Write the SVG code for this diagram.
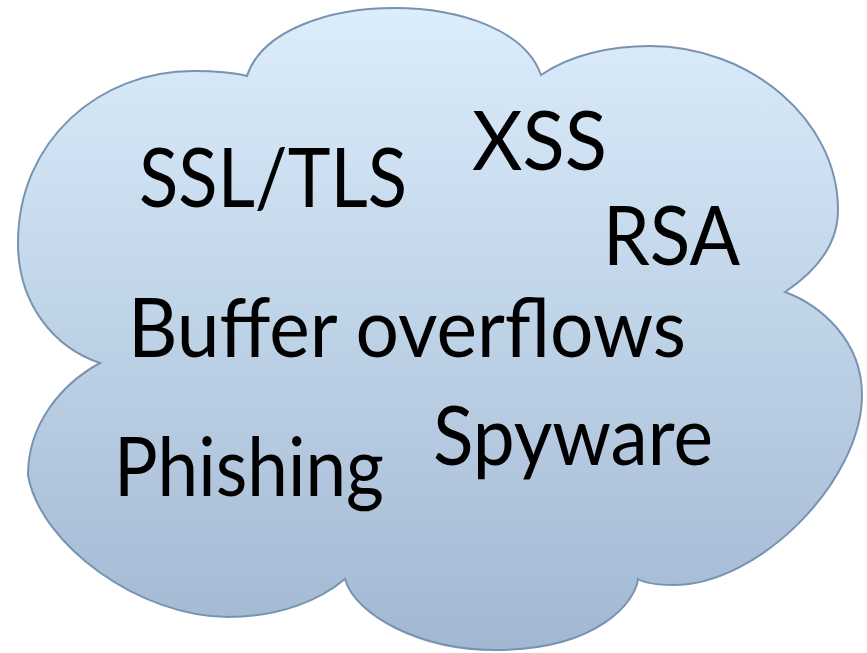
<svg xmlns="http://www.w3.org/2000/svg" width="867" height="653" viewBox="0 0 867 653">
  <defs>
    <linearGradient id="cloudFill" x1="0" y1="0" x2="0" y2="1">
      <stop offset="0" stop-color="#dcedfb"/>
      <stop offset="0.5" stop-color="#bfd3e7"/>
      <stop offset="1" stop-color="#a2b8d2"/>
    </linearGradient>
  </defs>
  <style>
    .cloud { fill: url(#cloudFill); stroke: #7893b2; stroke-width: 2; stroke-linejoin: miter; }
    .lbl { font-family: Lato, "Open Sans", "Liberation Sans", sans-serif; font-size: 81px; fill: #000; }
  </style>
  <g id="cloud">
    <path class="cloud" d="M 247,76
      C 262,30 330,8 394,8
      C 460,8 525,30 541,75
      C 570,55 610,46 650,46
      C 750,46 838,120 838,210
      C 838,245 815,272 785,292
      C 820,305 862,340 862,395
      C 862,480 760,585 673,585
      C 660,585 645,583 638,579
      C 636,600 600,650 495,650
      C 420,650 355,615 345,579
      C 320,600 280,617 228,617
      C 140,617 40,545 28,475
      C 28,425 60,385 100,363
      C 55,348 18,305 18,243
      C 18,140 100,71 193,71
      C 215,71 235,73 247,76 Z"/>
  </g>
  <g id="ssl-tls"><text class="lbl" x="139" y="207" textLength="268" lengthAdjust="spacingAndGlyphs">SSL/TLS</text></g>
  <g id="xss"><text class="lbl" x="472" y="170" textLength="135" lengthAdjust="spacingAndGlyphs">XSS</text></g>
  <g id="rsa"><text class="lbl" x="603" y="265" textLength="137" lengthAdjust="spacingAndGlyphs">RSA</text></g>
  <g id="buffer-overflows"><text class="lbl" x="128" y="357" textLength="558" lengthAdjust="spacingAndGlyphs">Buffer overflows</text></g>
  <g id="phishing"><text class="lbl" x="114" y="496" textLength="270" lengthAdjust="spacingAndGlyphs">Phishing</text></g>
  <g id="spyware"><text class="lbl" x="433" y="465" textLength="280" lengthAdjust="spacingAndGlyphs">Spyware</text></g>
  <g id="connectors"/>
</svg>
